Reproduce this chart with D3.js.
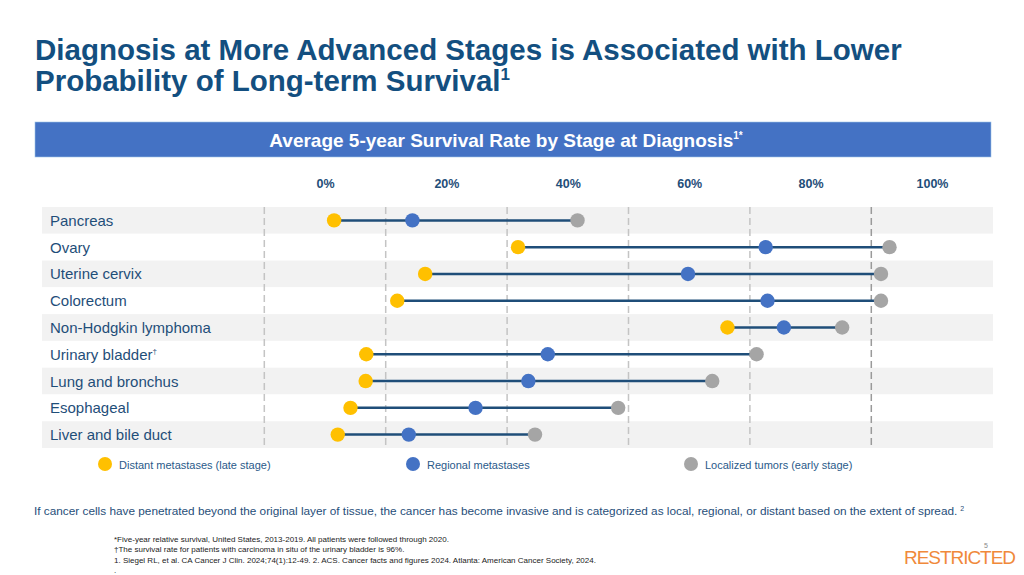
<!DOCTYPE html>
<html>
<head>
<meta charset="utf-8">
<script src="https://cdn.jsdelivr.net/npm/d3@7"></script>
<style>
  body { margin: 0; background: #fff; }
  svg { display: block; font-family: "Liberation Sans", Arial, sans-serif; }
</style>
</head>
<body>
<svg id="chart" width="1024" height="575"></svg>
<script>
// data (percent)
var cancers = ["Pancreas", "Ovary", "Uterine cervix", "Colorectum", "Non-Hodgkin lymphoma",
               "Urinary bladder", "Lung and bronchus", "Esophageal", "Liver and bile duct"];
var distant  = [1.5, 31.8, 16.5, 11.9, 66.3, 6.8, 6.7, 4.2, 2.1];
var regional = [14.4, 72.6, 59.8, 72.9, 75.6, 36.7, 33.5, 24.8, 13.8];
var localized = [41.6, 93.0, 91.6, 91.6, 85.2, 71.1, 63.8, 48.3, 34.6];
var tickValues = [0, 20, 40, 60, 80, 100];
var gridValues = [-10, 10, 30, 50, 70, 90];

var svg = d3.select("#chart");
var blue = "#1f4e79";

var x = d3.scaleLinear().domain([0, 100]).range([325, 932]);
var y = d3.scaleBand().domain(cancers).range([207, 448]);

// title
var title = svg.append("text").attr("x", 35).attr("fill", "#134f80")
  .style("font-weight", "bold").style("font-size", "29.5px");
title.append("tspan").attr("x", 35).attr("y", 60).text("Diagnosis at More Advanced Stages is Associated with Lower");
title.append("tspan").attr("x", 35).attr("y", 91).text("Probability of Long-term Survival");
title.append("tspan").attr("dy", -11).style("font-size", "17px").text("1");

// header bar
svg.append("rect").attr("x", 35).attr("y", 122).attr("width", 956).attr("height", 35)
  .attr("fill", "#4472c4").attr("stroke", "#9dc3e6").attr("stroke-width", 0.6);
var head = svg.append("text").attr("x", 506).attr("y", 146.5).attr("text-anchor", "middle")
  .attr("fill", "#fff").style("font-weight", "bold").style("font-size", "19px");
head.append("tspan").text("Average 5-year Survival Rate by Stage at Diagnosis");
head.append("tspan").attr("dy", -8).style("font-size", "10px").text("1*");

// row bands
svg.selectAll("rect.band").data(cancers).enter().append("rect")
  .attr("class", "band")
  .attr("x", 42).attr("width", 951)
  .attr("y", function(d) { return y(d); })
  .attr("height", y.bandwidth())
  .attr("fill", function(d, i) { return i % 2 == 0 ? "#f2f2f2" : "#fff"; });

// dashed grid
svg.selectAll("line.grid").data(gridValues).enter().append("line")
  .attr("class", "grid")
  .attr("x1", function(d) { return x(d); }).attr("x2", function(d) { return x(d); })
  .attr("y1", 207).attr("y2", 448)
  .attr("stroke", function(d) { return d == 90 ? "#9a9a9a" : "#c4c4c4"; })
  .attr("stroke-width", 1.5)
  .attr("stroke-dasharray", "7,4");

// tick labels
var axis = svg.append("g").attr("transform", "translate(0,191)")
  .call(d3.axisTop(x).tickValues(tickValues).tickSize(0).tickFormat(function(d) { return d + "%"; }));
axis.select(".domain").remove();
axis.selectAll("text").attr("fill", blue).style("font-size", "12.5px").style("font-weight", "bold")
  .style("font-family", "Liberation Sans, Arial, sans-serif");

// category labels
var labels = svg.selectAll("text.cat").data(cancers).enter().append("text")
  .attr("class", "cat")
  .attr("x", 50)
  .attr("y", function(d) { return y(d) + y.bandwidth() / 2 + 5.5; })
  .attr("fill", blue).style("font-size", "15px")
  .text(function(d) { return d; });
labels.filter(function(d) { return d == "Urinary bladder"; })
  .append("tspan").attr("dy", -6).style("font-size", "8px").text("†");

// connecting lines and dots
var rows = cancers.map(function(c, i) {
  return { name: c, d: distant[i], r: regional[i], l: localized[i] };
});
var cy = function(d) { return y(d.name) + y.bandwidth() / 2; };

svg.selectAll("line.link").data(rows).enter().append("line")
  .attr("x1", function(d) { return x(d.d); }).attr("x2", function(d) { return x(d.l); })
  .attr("y1", cy).attr("y2", cy)
  .attr("stroke", blue).attr("stroke-width", 2.5);

var stages = [
  { key: "d", color: "#ffc000" },
  { key: "r", color: "#4472c4" },
  { key: "l", color: "#a5a5a5" }
];
stages.forEach(function(s) {
  svg.selectAll("circle." + s.key).data(rows).enter().append("circle")
    .attr("cx", function(d) { return x(d[s.key]); })
    .attr("cy", cy)
    .attr("r", 7.2)
    .attr("fill", s.color);
});

// legend
var legend = [
  { label: "Distant metastases (late stage)", color: "#ffc000", x: 105 },
  { label: "Regional metastases", color: "#4472c4", x: 413 },
  { label: "Localized tumors (early stage)", color: "#a5a5a5", x: 691 }
];
var lg = svg.selectAll("g.leg").data(legend).enter().append("g")
  .attr("transform", function(d) { return "translate(" + d.x + ",464)"; });
lg.append("circle").attr("r", 7).attr("fill", function(d) { return d.color; });
lg.append("text").attr("x", 14).attr("y", 4.5).attr("fill", "#2a5a8a")
  .style("font-size", "11px").text(function(d) { return d.label; });

// note
var note = svg.append("text").attr("x", 34).attr("y", 515).attr("fill", blue).style("font-size", "11.8px");
note.append("tspan").text("If cancer cells have penetrated beyond the original layer of tissue, the cancer has become invasive and is categorized as local, regional, or distant based on the extent of spread.");
note.append("tspan").attr("dx", 3).attr("dy", -4).style("font-size", "7px").text("2");

// footnotes
var foot = [
  "*Five-year relative survival, United States, 2013-2019. All patients were followed through 2020.",
  "†The survival rate for patients with carcinoma in situ of the urinary bladder is 96%.",
  "1. Siegel RL, et al. CA Cancer J Clin. 2024;74(1):12-49.  2. ACS. Cancer facts and figures 2024. Atlanta: American Cancer Society, 2024.",
  "."
];
svg.selectAll("text.foot").data(foot).enter().append("text")
  .attr("x", 114).attr("y", function(d, i) { return 541.5 + i * 10.5; })
  .attr("fill", "#222").style("font-size", "8px").text(function(d) { return d; });

// restricted label
svg.append("text").attr("x", 904).attr("y", 564).attr("fill", "#f0893a")
  .style("font-size", "19px").style("font-family", "Liberation Sans Narrow, Liberation Sans, sans-serif")
  .attr("textLength", 112).text("RESTRICTED");
svg.append("text").attr("x", 984).attr("y", 548).attr("fill", "#888")
  .style("font-size", "7px").text("5");
</script>
</body>
</html>
